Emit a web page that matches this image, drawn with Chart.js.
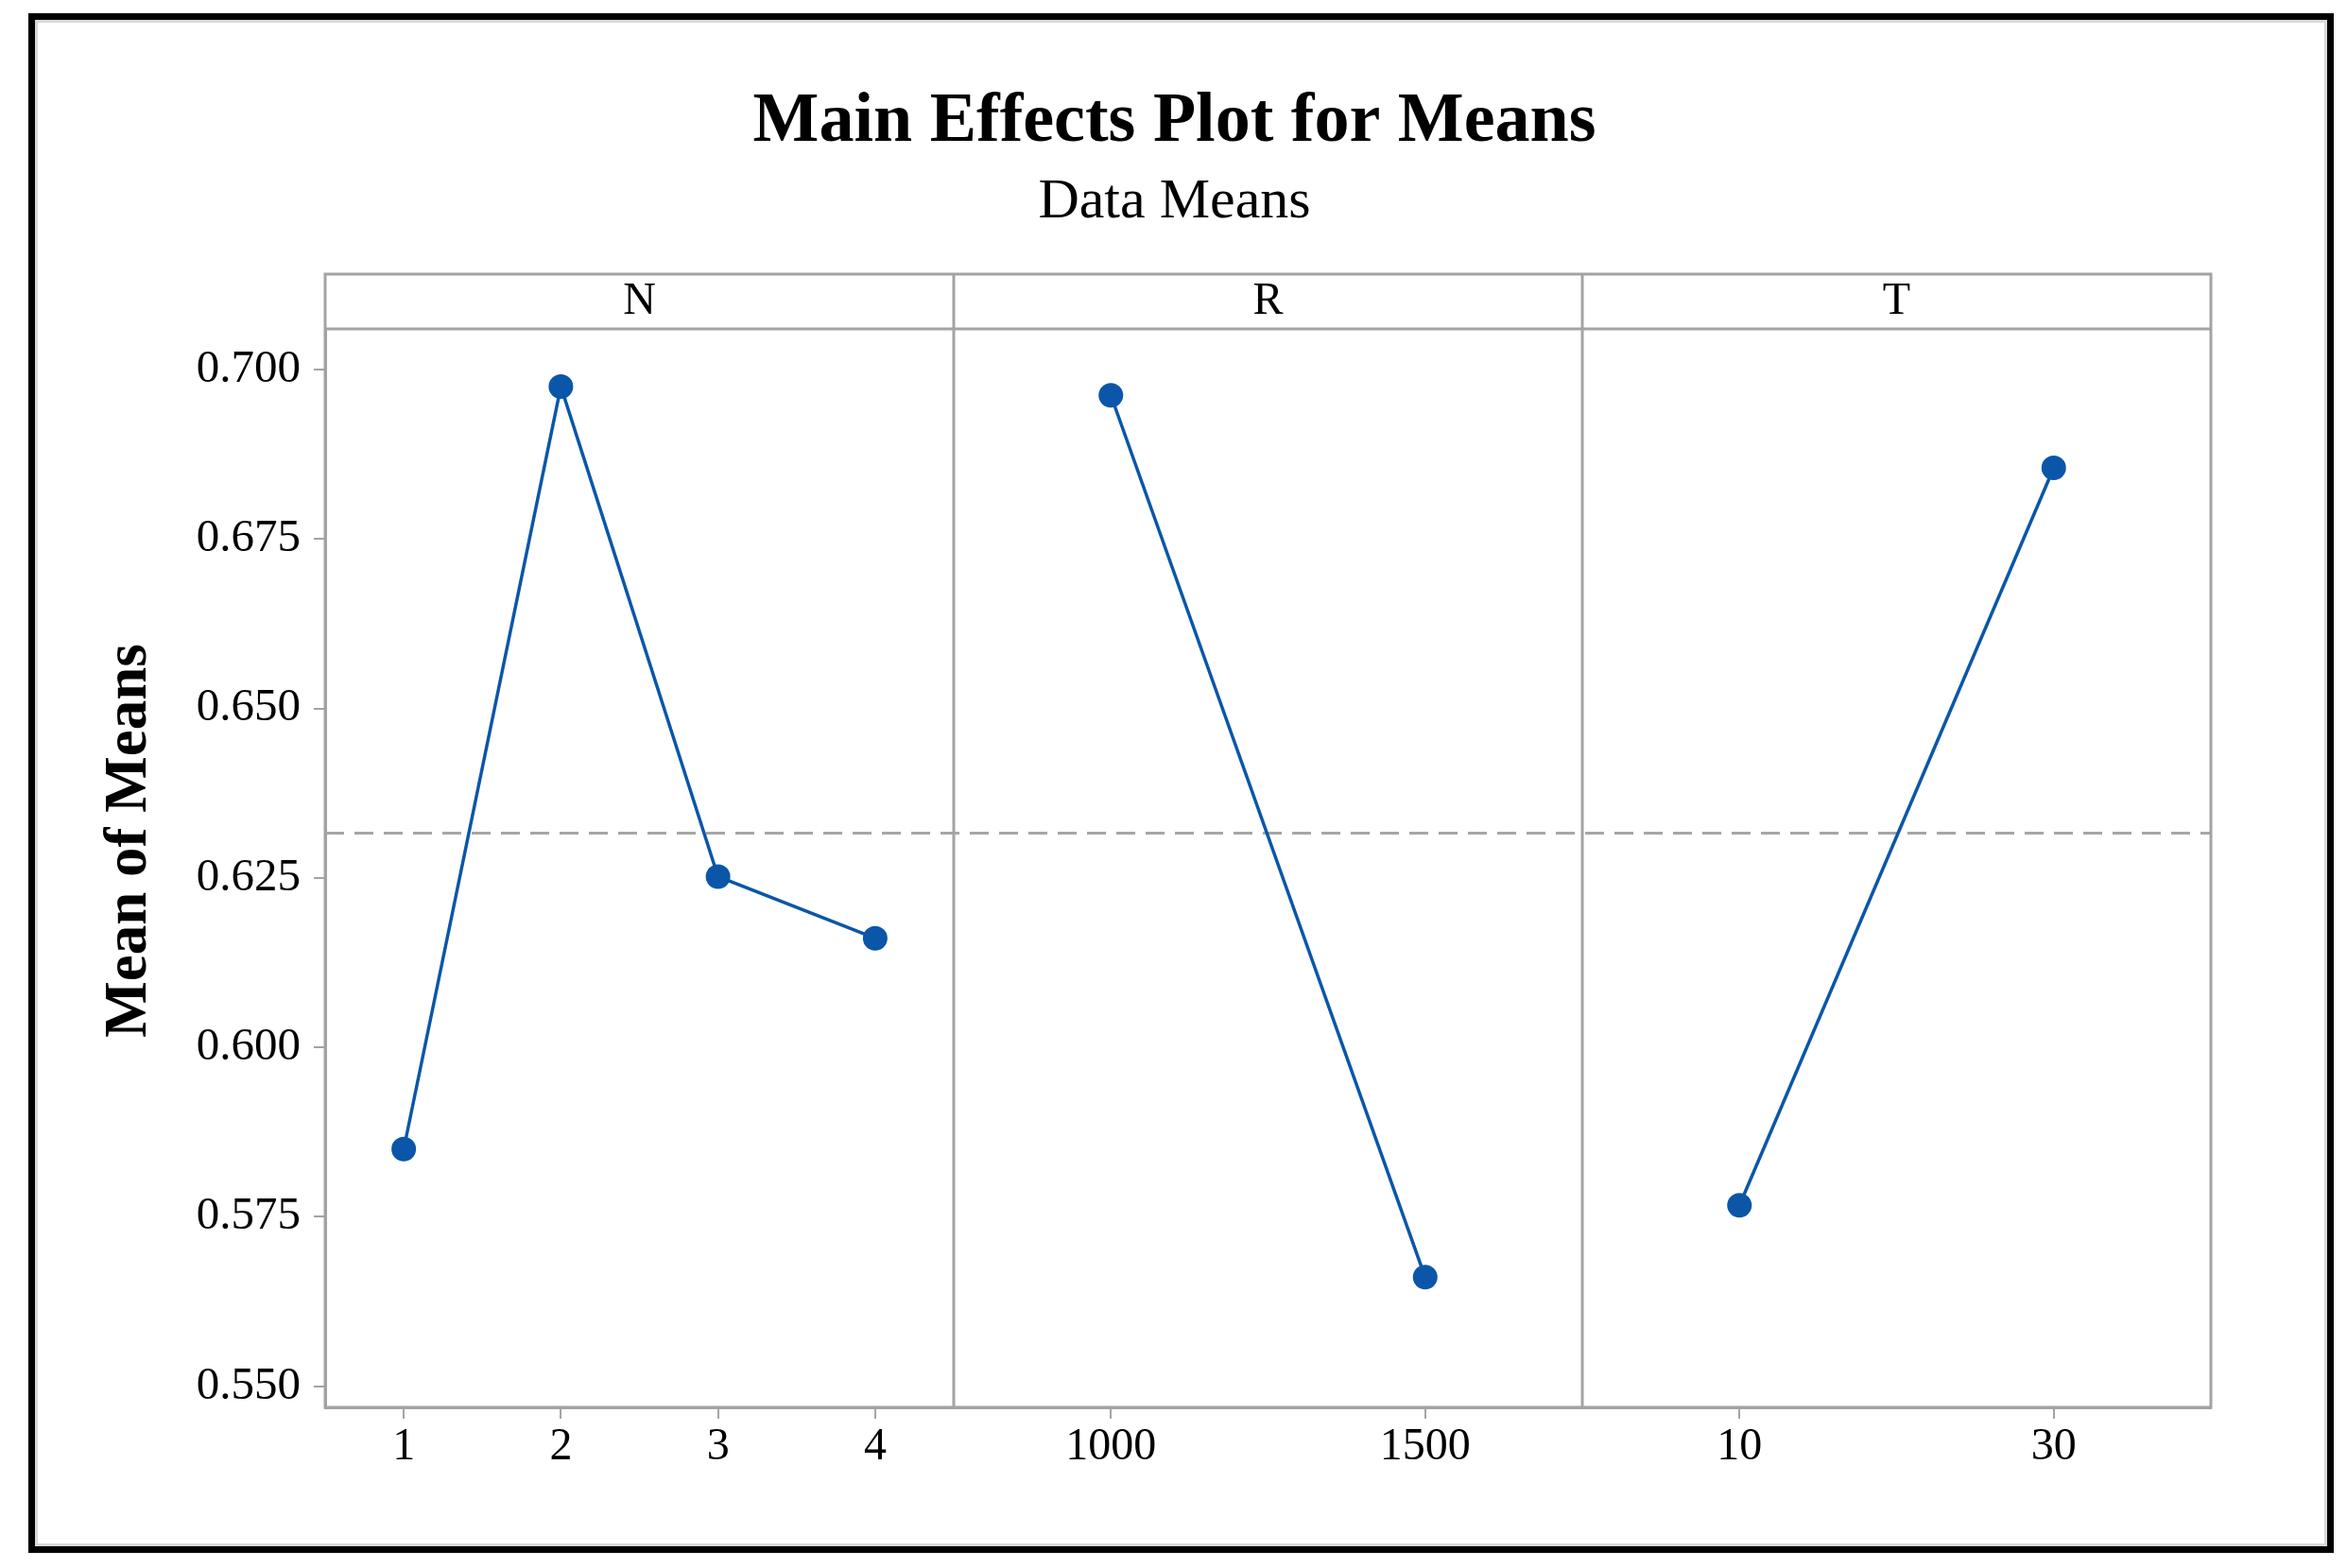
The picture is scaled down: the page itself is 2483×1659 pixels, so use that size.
<!DOCTYPE html>
<html>
<head>
<meta charset="utf-8">
<script src="https://cdn.jsdelivr.net/npm/chart.js@4.4.1/dist/chart.umd.min.js"></script>
<style>
    body { margin: 0; background: #fff; }
    #wrap { position: relative; width: 2483px; height: 1659px; }
    #frame {
        position: absolute; left: 30px; top: 14px; width: 2425px; height: 1615px;
        border: 7px solid #000; box-shadow: inset 0 0 0 3px #d9d9d9; pointer-events: none;
    }
</style>
</head>
<body>
<div id="wrap">
    <canvas id="effectsChart" width="2483" height="1659"></canvas>
    <div id="frame"></div>
</div>
<script>
// factor levels and their means
const nLevels = ['1', '2', '3', '4'];
const nMeans = [0.5850, 0.6975, 0.6252, 0.6161];
const rLevels = ['1000', '1500'];
const rMeans = [0.6962, 0.5661];
const tLevels = ['10', '30'];
const tMeans = [0.5767, 0.6855];
const grandMean = 0.6316;
const yTicks = [0.550, 0.575, 0.600, 0.625, 0.650, 0.675, 0.700];
const panelNames = ['N', 'R', 'T'];

const blue = '#0b56a8';
const frameGray = '#a3a3a3';

Chart.defaults.font.family = 'Liberation Serif';
Chart.defaults.color = '#000';

// draws strip headers, panel dividers, y title and the dashed overall mean
const panelFrame = {
    id: 'panelFrame',
    beforeDatasetsDraw(chart) {
        const { ctx, chartArea, scales } = chart;
        const stripH = 58;
        const panels = [scales.xN, scales.xR, scales.xT];

        ctx.save();
        // overall mean line
        const yMean = scales.y.getPixelForValue(grandMean);
        ctx.strokeStyle = '#a6a6a6';
        ctx.lineWidth = 3;
        ctx.setLineDash([20, 11]);
        ctx.beginPath();
        ctx.moveTo(chartArea.left, yMean);
        ctx.lineTo(chartArea.right, yMean);
        ctx.stroke();
        ctx.setLineDash([]);

        // outer box + strip
        ctx.strokeStyle = frameGray;
        ctx.lineWidth = 3;
        ctx.strokeRect(chartArea.left, chartArea.top - stripH, chartArea.right - chartArea.left, chartArea.bottom - chartArea.top + stripH);
        ctx.beginPath();
        ctx.moveTo(chartArea.left, chartArea.top);
        ctx.lineTo(chartArea.right, chartArea.top);
        panels.slice(0, -1).forEach(s => {
            ctx.moveTo(s.right, chartArea.top - stripH);
            ctx.lineTo(s.right, chartArea.bottom);
        });
        ctx.stroke();

        ctx.fillStyle = '#000';
        ctx.font = '48px "Liberation Serif"';
        ctx.textAlign = 'center';
        ctx.textBaseline = 'middle';
        panels.forEach((s, i) => {
            ctx.fillText(panelNames[i], (s.left + s.right) / 2, chartArea.top - stripH / 2);
        });

        // y axis title, centred on panel + strip
        ctx.font = 'bold 63px "Liberation Serif"';
        ctx.translate(138, (chartArea.top - stripH + chartArea.bottom) / 2);
        ctx.rotate(-Math.PI / 2);
        ctx.fillText('Mean of Means', 0, 0);
        ctx.restore();
    }
};

function xAxis(levels) {
    return {
        type: 'category',
        labels: levels,
        position: 'bottom',
        stack: 'panels',
        stackWeight: 1,
        offset: true,
        border: { display: true, color: frameGray, width: 3 },
        grid: { drawOnChartArea: false, drawTicks: true, tickLength: 12, color: frameGray, lineWidth: 2 },
        ticks: { font: { size: 48 }, padding: 2, color: '#000' },
        afterFit: s => { s.height = 170; }
    };
}

function lineSet(values, axisId) {
    return {
        data: values,
        xAxisID: axisId,
        yAxisID: 'y',
        borderColor: blue,
        backgroundColor: blue,
        borderWidth: 3.5,
        pointRadius: 13,
        pointBorderWidth: 0,
        pointBackgroundColor: blue,
        tension: 0
    };
}

const ctx = document.getElementById('effectsChart').getContext('2d');
new Chart(ctx, {
    type: 'line',
    data: {
        datasets: [
            lineSet(nMeans, 'xN'),
            lineSet(rMeans, 'xR'),
            lineSet(tMeans, 'xT')
        ]
    },
    options: {
        responsive: false,
        animation: false,
        layout: { padding: { left: 146, right: 144, top: 0, bottom: 0 } },
        plugins: {
            legend: { display: false },
            tooltip: { enabled: false },
            title: {
                display: true,
                text: 'Main Effects Plot for Means',
                color: '#000',
                font: { size: 74, weight: 'bold', lineHeight: 1 },
                padding: { top: 93, bottom: 0 }
            },
            subtitle: {
                display: true,
                text: 'Data Means',
                color: '#000',
                font: { size: 60, lineHeight: 1 },
                padding: { top: 17, bottom: 104 }
            }
        },
        scales: {
            xN: xAxis(nLevels),
            xR: xAxis(rLevels),
            xT: xAxis(tLevels),
            y: {
                type: 'linear',
                position: 'left',
                min: 0.5469,
                max: 0.7060,
                afterBuildTicks: s => { s.ticks = yTicks.map(v => ({ value: v })); },
                afterFit: s => { s.width = 198; },
                border: { display: true, color: frameGray, width: 3 },
                grid: { drawOnChartArea: false, drawTicks: true, tickLength: 12, color: frameGray, lineWidth: 2 },
                ticks: {
                    font: { size: 49 },
                    padding: 14,
                    color: '#000',
                    callback: v => Number(v).toFixed(3)
                }
            }
        }
    },
    plugins: [panelFrame]
});
</script>
</body>
</html>
